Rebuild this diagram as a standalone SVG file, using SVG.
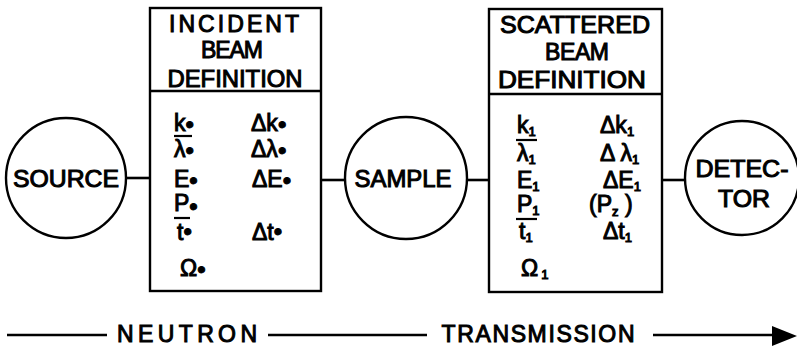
<svg xmlns="http://www.w3.org/2000/svg" width="797" height="348" viewBox="0 0 797 348">
<style>
.node circle,.node rect{fill:none;stroke:#000;stroke-width:2.4}
.div{stroke:#000;stroke-width:2.4}
text{font-family:"Liberation Sans",Arial,sans-serif;fill:#000;stroke:#000;stroke-width:1}
.h{font-size:23px;text-anchor:middle}
.lbl{font-size:23px;text-anchor:middle}
.s{font-size:23px}
.b{font-size:24px}
.sub{font-size:13px}
.conn line{stroke:#000;stroke-width:2.6}
.ul{stroke:#000;stroke-width:2.2}
</style>
<g id="source" class="node">
<circle cx="66" cy="178" r="60"/>
<text class="lbl" x="66" y="187" textLength="106" lengthAdjust="spacingAndGlyphs">SOURCE</text>
</g>
<g id="incident" class="node">
<rect x="150" y="8" width="171" height="283"/>
<line class="div" x1="150" y1="91" x2="321" y2="91"/>
<text class="h" x="234" y="32" textLength="130" lengthAdjust="spacing">INCIDENT</text>
<text class="h" x="232" y="58" textLength="62" lengthAdjust="spacing">BEAM</text>
<text class="h" x="235" y="87" textLength="135" lengthAdjust="spacingAndGlyphs">DEFINITION</text>
<text class="s" x="174" y="131">k<tspan class="b" dy="2">•</tspan></text>
<line class="ul" x1="174" y1="136" x2="192" y2="136"/>
<text class="s" x="174" y="157">λ<tspan class="b" dy="2">•</tspan></text>
<text class="s" x="174" y="187">E<tspan class="b" dy="2">•</tspan></text>
<text class="s" x="174" y="211">P<tspan class="b" dy="4">•</tspan></text>
<line class="ul" x1="174" y1="218" x2="190" y2="218"/>
<text class="s" x="177" y="240">t<tspan class="b">•</tspan></text>
<text class="s" x="180" y="276">Ω<tspan class="b" dy="2">•</tspan></text>
<text class="s" x="251" y="131">Δk<tspan class="b" dy="2">•</tspan></text>
<text class="s" x="251" y="157">Δλ<tspan class="b" dy="2">•</tspan></text>
<text class="s" x="252" y="187">ΔE<tspan class="b" dy="2">•</tspan></text>
<text class="s" x="252" y="240">Δt<tspan class="b">•</tspan></text>
</g>
<g id="sample" class="node">
<circle cx="406" cy="178" r="61"/>
<text class="lbl" x="403" y="187" textLength="97" lengthAdjust="spacingAndGlyphs">SAMPLE</text>
</g>
<g id="scattered" class="node">
<rect x="489" y="9" width="173" height="283"/>
<line class="div" x1="489" y1="94" x2="662" y2="94"/>
<text class="h" x="575" y="33" textLength="150" lengthAdjust="spacingAndGlyphs">SCATTERED</text>
<text class="h" x="577" y="60" textLength="64" lengthAdjust="spacing">BEAM</text>
<text class="h" x="572" y="88" textLength="148" lengthAdjust="spacingAndGlyphs">DEFINITION</text>
<text class="s" x="517" y="133">k<tspan class="sub" dy="3">1</tspan></text>
<line class="ul" x1="516" y1="140" x2="537" y2="140"/>
<text class="s" x="517" y="161">λ<tspan class="sub" dy="3">1</tspan></text>
<text class="s" x="517" y="188">E<tspan class="sub" dy="3">1</tspan></text>
<text class="s" x="517" y="212">P<tspan class="sub" dy="3">1</tspan></text>
<line class="ul" x1="516" y1="219" x2="537" y2="219"/>
<text class="s" x="519" y="239">t<tspan class="sub" dy="3">1</tspan></text>
<text class="s" x="521" y="276">Ω<tspan class="sub" dx="3" dy="3">1</tspan></text>
<text class="s" x="600" y="133">Δk<tspan class="sub" dy="3">1</tspan></text>
<text class="s" x="600" y="161">Δ λ<tspan class="sub" dy="3">1</tspan></text>
<text class="s" x="603" y="188">ΔE<tspan class="sub" dy="3">1</tspan></text>
<text class="s" x="589" y="212">(P<tspan class="sub" dy="4">z</tspan><tspan dy="-4"> )</tspan></text>
<text class="s" x="603" y="239">Δt<tspan class="sub" dy="3">1</tspan></text>
</g>
<g id="detector" class="node">
<circle cx="742" cy="178" r="57"/>
<text class="lbl" x="742" y="177" textLength="93" lengthAdjust="spacingAndGlyphs">DETEC-</text>
<text class="lbl" x="744" y="207" textLength="52" lengthAdjust="spacingAndGlyphs">TOR</text>
</g>
<g id="connectors" class="conn">
<line x1="126" y1="178" x2="150" y2="178"/>
<line x1="321" y1="180" x2="345" y2="180"/>
<line x1="467" y1="180" x2="489" y2="180"/>
<line x1="662" y1="180" x2="685" y2="180"/>
<line x1="7" y1="335" x2="107" y2="335"/>
<line x1="268" y1="335" x2="427" y2="335"/>
<line x1="653" y1="335" x2="776" y2="335"/>
<polygon points="772,326 797,336 772,346" fill="#000"/>
</g>
<g id="caption">
<text class="lbl" x="187" y="342" textLength="140" lengthAdjust="spacing">NEUTRON</text>
<text class="lbl" x="538" y="342" textLength="193" lengthAdjust="spacing">TRANSMISSION</text>
</g>
</svg>
